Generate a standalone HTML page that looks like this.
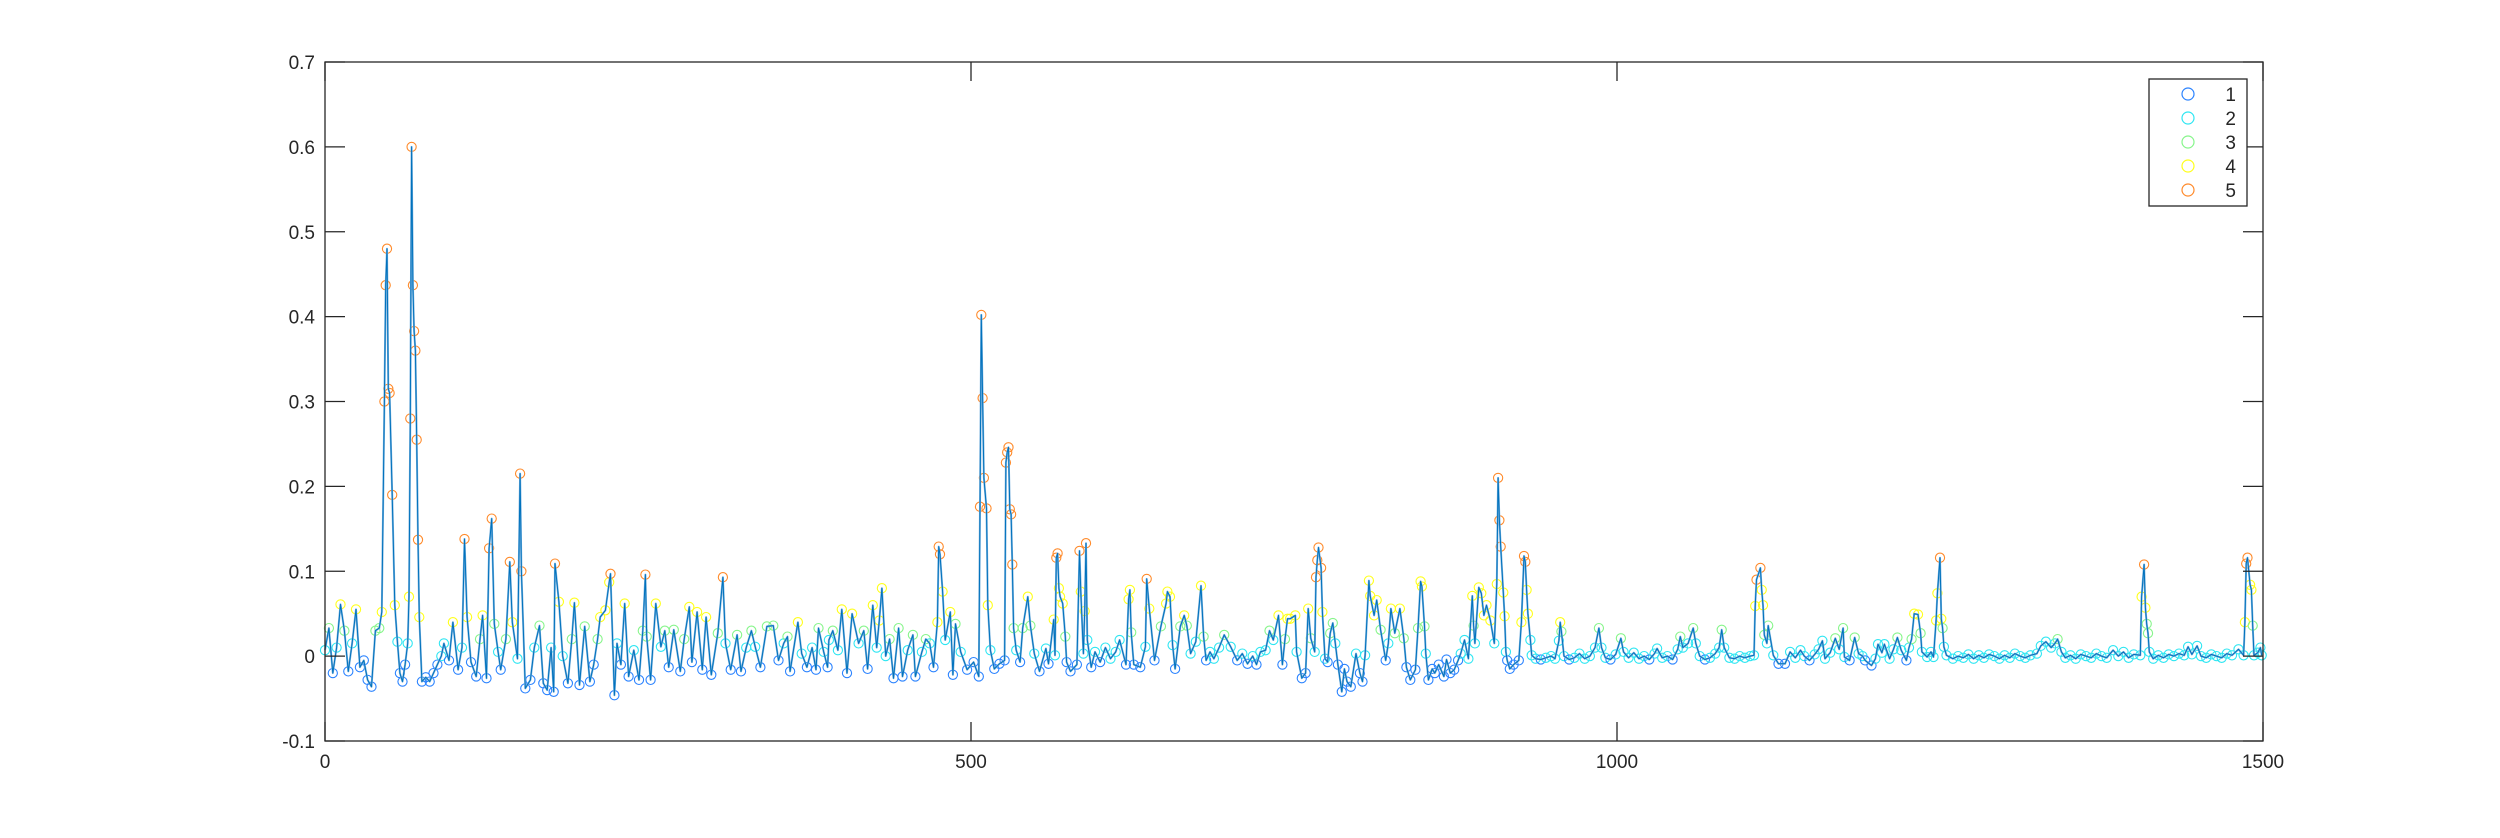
<!DOCTYPE html>
<html>
<head>
<meta charset="utf-8">
<style>
  html,body{margin:0;padding:0;background:#fff;}
  body{width:2500px;height:833px;overflow:hidden;font-family:"Liberation Sans",Arial,sans-serif;}
  svg text{font-family:"Liberation Sans",Arial,sans-serif;fill:#262626;}
</style>
</head>
<body>
<svg id="chart" width="2500" height="833" viewBox="0 0 2500 833" xmlns="http://www.w3.org/2000/svg">
  <rect x="0" y="0" width="2500" height="833" fill="#fff"/>
  <g id="marks"></g>
  <g id="axes"></g>
  <g id="legend">
    <rect x="2149" y="79" width="98" height="127" fill="#fff" stroke="#262626" stroke-width="1.3"/>
  </g>
</svg>
<script>
const sampleIndex = [
0,3,6,9,12,15,18,21,24,27,
30,33,36,39,42,44,46,47,48,49,
50,52,54,56,58,60,62,64,65,66,
67,68,69,70,71,72,73,75,78,81,
84,87,90,92,96,99,103,106,108,110,
113,117,120,122,125,127,129,131,134,136,
140,143,145,149,151,152,155,159,162,166,
169,172,175,177,178,181,184,188,191,193,
197,201,205,208,211,213,217,220,221,224,
226,229,232,235,239,243,246,248,249,252,
256,260,263,266,270,275,278,282,284,288,
292,295,299,304,308,310,314,319,322,326,
330,333,337,342,347,351,355,358,360,366,
369,373,377,380,382,386,389,390,393,397,
400,404,408,413,417,420,424,427,429,431,
434,437,440,444,447,451,455,457,462,465,
468,471,474,475,476,478,480,484,486,488,
492,497,502,506,507,508,509,510,512,513,
515,518,522,526,527,528,529,530,531,532,
533,535,538,540,544,546,549,553,558,560,
564,565,566,567,568,569,571,573,574,577,
582,584,585,587,588,589,590,593,596,600,
604,608,612,615,620,622,623,624,626,631,
635,636,638,642,647,651,652,654,656,658,
662,665,667,670,674,678,680,682,685,688,
692,696,701,706,710,714,718,721,724,728,
731,734,738,741,743,745,747,751,752,756,
759,761,763,766,767,768,769,771,772,774,
776,778,780,782,784,787,789,791,794,798,
801,803,805,808,809,812,814,817,821,823,
825,828,832,835,837,840,844,846,848,849,
851,852,854,857,859,862,866,868,871,874,
877,879,882,885,888,889,890,893,895,897,
899,902,905,907,908,909,910,912,913,914,
915,917,920,924,926,928,929,930,931,933,
934,937,941,945,949,952,955,956,957,959,
963,967,971,975,979,983,986,988,991,995,
999,1003,1005,1009,1013,1017,1021,1025,1029,1031,
1035,1039,1043,1047,1049,1051,1055,1059,1061,1064,
1068,1072,1076,1079,1081,1083,1087,1091,1095,1099,
1103,1106,1107,1108,1111,1112,1113,1114,1116,1117,
1121,1125,1130,1134,1138,1142,1145,1149,1153,1156,
1159,1161,1165,1169,1172,1175,1176,1180,1184,1187,
1190,1192,1197,1200,1202,1205,1207,1211,1214,1217,
1220,1224,1226,1228,1230,1233,1235,1236,1240,1243,
1245,1247,1248,1250,1251,1252,1253,1255,1260,1264,
1268,1272,1276,1280,1284,1288,1292,1296,1300,1304,
1308,1312,1316,1320,1325,1328,1332,1336,1339,1341,
1344,1347,1351,1355,1359,1363,1367,1371,1375,1379,
1384,1388,1392,1396,1400,1405,1406,1408,1409,1410,
1411,1412,1415,1419,1423,1427,1431,1435,1439,1442,
1445,1449,1452,1456,1460,1464,1468,1472,1476,1481,
1485,1486,1487,1488,1490,1491,1492,1493,1496,1498,
1499
];
const sampleValue = [
.007,.033,-.02,.01,.061,.03,-.018,.015,.055,-.013,
-.005,-.028,-.036,.03,.033,.052,.30,.437,.48,.315,
.31,.19,.06,.017,-.02,-.03,-.01,.015,.07,.28,
.60,.437,.383,.36,.255,.137,.046,-.03,-.025,-.03,
-.02,-.01,0,.015,-.005,.04,-.016,.01,.138,.046,
-.007,-.024,.02,.048,-.026,.127,.162,.038,.005,-.016,
.02,.111,.04,-.003,.215,.10,-.038,-.028,.01,.036,
-.032,-.04,.01,-.042,.109,.064,0,-.032,.02,.063,
-.034,.035,-.03,-.01,.02,.046,.054,.087,.097,-.046,
.015,-.01,.062,-.024,.007,-.028,.03,.096,.023,-.028,
.062,.011,.03,-.013,.031,-.018,.02,.058,-.007,.052,
-.016,.046,-.022,.027,.093,.015,-.016,.025,-.018,.01,
.03,.011,-.013,.035,.036,-.005,.015,.023,-.018,.04,
.003,-.013,.01,-.016,.033,.005,-.013,.019,.03,.007,
.055,-.02,.05,.015,.03,-.015,.06,.01,.042,.08,
0,.02,-.026,.033,-.024,.007,.025,-.024,.005,.02,
.015,-.013,.04,.129,.12,.076,.019,.052,-.022,.038,
.005,-.016,-.007,-.024,.176,.402,.304,.21,.174,.06,
.007,-.015,-.009,-.005,.228,.24,.246,.173,.167,.108,
.033,.007,-.007,.033,.07,.036,.003,-.018,.009,-.009,
.043,.001,.116,.121,.08,.07,.062,.023,-.007,-.018,
-.01,.124,.076,.003,.053,.133,.019,-.013,.005,-.007,
.01,-.003,.005,.019,-.01,.067,.078,.028,-.01,-.013,
.011,.091,.056,-.005,.035,.062,.076,.07,.013,-.015,
.035,.048,.036,.003,.017,.083,.023,-.005,.005,-.003,
.01,.025,.011,-.005,.003,-.009,0,-.01,.005,.007,
.03,.019,.048,-.01,.02,.044,.044,.048,.005,-.026,
-.02,.056,.021,.005,.093,.113,.128,.104,.052,-.003,
-.007,.027,.039,.015,-.01,-.042,-.015,-.03,-.036,.003,
-.02,-.03,.001,.089,.071,.048,.066,.031,-.005,.015,
.056,.027,.056,.021,-.013,-.028,-.016,.033,.088,.082,
.035,.003,-.028,-.015,-.02,-.01,-.024,-.004,-.02,-.016,
-.005,.003,.019,-.003,.071,.036,.015,.081,.074,.048,
.06,.042,.015,.085,.21,.16,.129,.075,.047,.005,
-.005,-.015,-.01,-.005,.04,.118,.111,.078,.05,.019,
.001,-.003,-.004,-.002,0,-.003,.018,.04,.029,0,
-.004,-.002,.003,-.003,0,.01,.033,.01,-.002,-.004,
.002,.021,.005,-.002,.004,-.003,0,-.004,.003,.009,
-.002,0,-.004,.008,.023,.01,.015,.033,.015,0,
-.004,-.002,.003,.01,.031,.01,-.002,-.003,0,-.002,
0,.001,.059,.09,.104,.078,.06,.025,.015,.036,
.001,-.009,-.009,.005,-.002,.007,0,-.005,.002,.008,
.018,-.003,.004,.021,.008,.033,-.001,-.005,.022,.003,
0,-.005,-.011,-.003,.014,.004,.014,-.003,.008,.022,
.007,-.005,.01,.02,.05,.049,.027,.005,-.001,.005,
-.001,.042,.074,.116,.044,.033,.011,.001,-.003,0,
-.002,.002,-.003,.001,-.002,.002,0,-.003,.001,-.002,
.003,0,-.002,.001,.003,.012,.017,.01,.015,.02,
.005,-.002,.001,-.003,.002,0,-.002,.003,0,-.002,
.007,0,.005,-.002,.002,.001,.07,.108,.057,.038,
.027,.005,-.003,.001,-.002,.002,0,.003,.001,.011,
.002,.012,0,-.002,.002,0,-.002,.003,.001,.008,
.001,.04,.109,.116,.084,.078,.036,.001,.004,.01,
.001
];
const xTickValues = [0, 500, 1000, 1500];
const xTickLabels = ["0", "500", "1000", "1500"];
const yTickValues = [-0.1, 0, 0.1, 0.2, 0.3, 0.4, 0.5, 0.6, 0.7];
const yTickLabels = ["-0.1", "0", "0.1", "0.2", "0.3", "0.4", "0.5", "0.6", "0.7"];
const legendLabels = ["1", "2", "3", "4", "5"];
const classColors = ["#2b83ff", "#2ee6f2", "#86f58a", "#ffff1a", "#ff8a2a"];

const NS = "http://www.w3.org/2000/svg";
const L = 325, R = 2263, T = 62, B = 741;
const X0 = 0, X1 = 1500, Y0 = -0.1, Y1 = 0.7;
function xs(v){ return L + (v - X0) / (X1 - X0) * (R - L); }
function ys(v){ return B - (v - Y0) / (Y1 - Y0) * (B - T); }
function mk(tag, attrs){ const e = document.createElementNS(NS, tag); for (const k in attrs) e.setAttribute(k, attrs[k]); return e; }
function classOf(v){ if (v <= -0.004) return 0; if (v < 0.02) return 1; if (v < 0.04) return 2; if (v < 0.09) return 3; return 4; }

const marks = document.getElementById('marks');
const n = Math.min(sampleIndex.length, sampleValue.length);

for (let i = 0; i < n; i++) {
  const c = mk('circle', {cx: xs(sampleIndex[i]).toFixed(1), cy: ys(sampleValue[i]).toFixed(1), r: 4.6, fill: 'none', stroke: classColors[classOf(sampleValue[i])], 'stroke-width': 1.1});
  
  
  marks.appendChild(c);
}
let d = '';
for (let i = 0; i < n; i++) d += (i ? 'L' : 'M') + xs(sampleIndex[i]).toFixed(1) + ' ' + ys(sampleValue[i]).toFixed(1);
const lineLight = mk('path', {d: d, fill: 'none', stroke: '#7db3de', 'stroke-width': 2.0, 'stroke-linejoin': 'round'});


marks.appendChild(lineLight);
const line = mk('path', {d: d, fill: 'none', stroke: '#0072bd', 'stroke-width': 1.0, 'stroke-linejoin': 'round'});


marks.appendChild(line);

const axes = document.getElementById('axes');
const box = mk('rect', {x: L, y: T, width: R - L, height: B - T, fill: 'none', stroke: '#262626', 'stroke-width': 1.3});


axes.appendChild(box);
for (let i = 0; i < xTickValues.length; i++) {
  const x = xs(xTickValues[i]);
  const t1 = mk('line', {x1: x, y1: B, x2: x, y2: B - 19, stroke: '#262626', 'stroke-width': 1.3});
  
  
  axes.appendChild(t1);
  const t2 = mk('line', {x1: x, y1: T, x2: x, y2: T + 19, stroke: '#262626', 'stroke-width': 1.3});
  
  
  axes.appendChild(t2);
  const lb = mk('text', {x: x, y: B + 27, 'text-anchor': 'middle', 'font-size': 19});
  lb.textContent = xTickLabels[i];
  
  
  axes.appendChild(lb);
}
for (let i = 0; i < yTickValues.length; i++) {
  const y = ys(yTickValues[i]);
  const t1 = mk('line', {x1: L, y1: y, x2: L + 20, y2: y, stroke: '#262626', 'stroke-width': 1.3});
  
  
  axes.appendChild(t1);
  const t2 = mk('line', {x1: R, y1: y, x2: R - 20, y2: y, stroke: '#262626', 'stroke-width': 1.3});
  
  
  axes.appendChild(t2);
  const lb = mk('text', {x: L - 10, y: y + 7, 'text-anchor': 'end', 'font-size': 19});
  lb.textContent = yTickLabels[i];
  
  
  axes.appendChild(lb);
}

const legend = document.getElementById('legend');
for (let i = 0; i < legendLabels.length; i++) {
  const y = 94 + i * 24;
  const g = mk('g', {});
  
  
  const c = mk('circle', {cx: 2188, cy: y, r: 6, fill: 'none', stroke: classColors[i], 'stroke-width': 1.2});
  
  
  g.appendChild(c);
  const t = mk('text', {x: 2236, y: y + 7, 'text-anchor': 'end', 'font-size': 19, fill: '#000'});
  t.textContent = legendLabels[i];
  
  
  g.appendChild(t);
  legend.appendChild(g);
}
</script>
</body>
</html>
